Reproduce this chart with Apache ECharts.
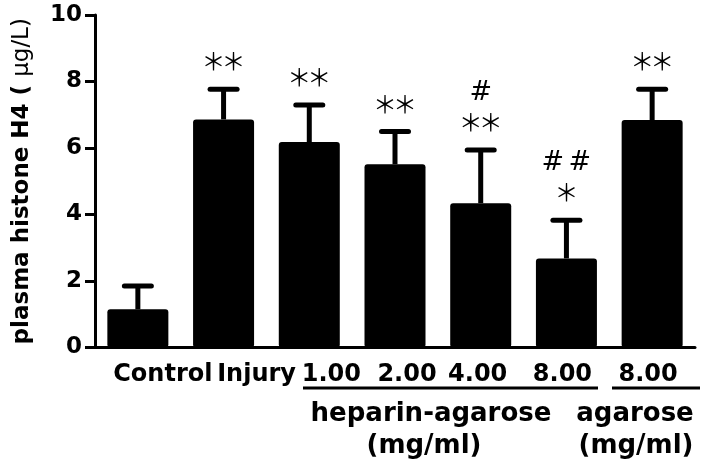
<!DOCTYPE html>
<html><head><meta charset="utf-8">
<script src="https://cdn.jsdelivr.net/npm/echarts@6/dist/echarts.min.js"></script>
<style>html,body{margin:0;padding:0;background:#fff}#c{width:708px;height:467px}</style>
</head><body><div id="c"></div>
<script>
// ---- data ----
const categories = ['Control', 'Injury', 'HA 1.00', 'HA 2.00', 'HA 4.00', 'HA 8.00', 'AG 8.00'];
const tickLabels = ['Control', 'Injury', '1.00', '2.00', '4.00', '8.00', '8.00'];
const means = [1.15, 6.86, 6.18, 5.51, 4.34, 2.68, 6.84];
const errTop = [1.85, 7.77, 7.29, 6.50, 5.94, 3.83, 7.77];
const marks = [[], ['**'], ['**'], ['**'], ['**', '#'], ['*', '##'], ['**']];
const yTicks = [0, 2, 4, 6, 8, 10];

const FONT = 'DejaVu Sans';
const labelShift = [25, 33, 22, 12, -3, -4, -4];
const rich = {};
labelShift.forEach((d, i) => {
  rich['s' + i] = {
    fontFamily: FONT, fontSize: 24, fontWeight: 'bold', color: '#000',
    padding: d >= 0 ? [0, 0, 0, 2 * d] : [0, -2 * d, 0, 0]
  };
});

const chart = echarts.init(document.getElementById('c'));
chart.setOption({
  animation: false,
  backgroundColor: '#fff',
  grid: { left: 95, right: 13, top: 15, bottom: 119.5 },
  xAxis: {
    type: 'category',
    data: categories,
    axisLine: { lineStyle: { color: '#000', width: 3 } },
    axisTick: { alignWithLabel: true, length: 10, lineStyle: { color: '#000', width: 3 } },
    axisLabel: {
      interval: 0, margin: 15,
      formatter: (v, i) => '{s' + i + '|' + tickLabels[i] + '}',
      rich: rich
    }
  },
  yAxis: {
    type: 'value', min: yTicks[0], max: yTicks[yTicks.length - 1], interval: 2,
    name: '{b|plasma histone H4 ( }{u|μg/L)}',
    nameLocation: 'middle', nameGap: 61,
    nameTextStyle: {
      rich: {
        b: { fontFamily: FONT, fontSize: 23, fontWeight: 'bold', color: '#000' },
        u: { fontFamily: FONT, fontSize: 23, fontWeight: 'normal', color: '#000' }
      }
    },
    splitLine: { show: false },
    axisLine: { show: true, lineStyle: { color: '#000', width: 3 } },
    axisTick: { show: true, length: 10, lineStyle: { color: '#000', width: 3 } },
    axisLabel: { fontFamily: FONT, fontSize: 23, fontWeight: 'bold', color: '#000', margin: 13 }
  },
  series: [
    {
      type: 'bar', data: means, barWidth: 61,
      itemStyle: { color: '#000', borderRadius: 3 }
    },
    {
      type: 'custom',
      data: categories.map((c, i) => [i, means[i], errTop[i]]),
      z: 3,
      renderItem: function (params, api) {
        const idx = params.dataIndex;
        const x = api.coord([api.value(0), 0])[0];
        const yTop = api.coord([api.value(0), api.value(2)])[1];
        const yMean = api.coord([api.value(0), api.value(1)])[1];
        const children = [
          { type: 'line', shape: { x1: x, y1: yMean, x2: x, y2: yTop }, style: { stroke: '#000', lineWidth: 5 } },
          { type: 'line', shape: { x1: x - 13.5, y1: yTop, x2: x + 13.5, y2: yTop }, style: { stroke: '#000', lineWidth: 5, lineCap: 'round' } }
        ];
        marks[idx].forEach((t, k) => {
          const chars = t.split('');
          const isHash = chars[0] === '#';
          const gap = isHash ? 27 : 20;
          chars.forEach((ch, j) => {
            children.push({
              type: 'text',
              x: x + (j - (chars.length - 1) / 2) * gap,
              y: yTop - 28 - 29 * k,
              style: {
                text: isHash ? '#' : '＊', fill: '#000', align: 'center', verticalAlign: 'middle',
                font: isHash ? '27px "DejaVu Sans"' : '24px "Noto Sans CJK SC"'
              }
            });
          });
        });
        return { type: 'group', children: children };
      }
    }
  ],
  graphic: [
    { type: 'line', shape: { x1: 303, y1: 388, x2: 598, y2: 388 }, style: { stroke: '#000', lineWidth: 3 } },
    { type: 'line', shape: { x1: 612, y1: 388, x2: 700, y2: 388 }, style: { stroke: '#000', lineWidth: 3 } },
    { type: 'text', x: 431, y: 414, style: { text: 'heparin-agarose', fill: '#000', align: 'center', verticalAlign: 'middle', font: 'bold 26px "DejaVu Sans"' } },
    { type: 'text', x: 424, y: 446, style: { text: '(mg/ml)', fill: '#000', align: 'center', verticalAlign: 'middle', font: 'bold 26px "DejaVu Sans"' } },
    { type: 'text', x: 635, y: 414, style: { text: 'agarose', fill: '#000', align: 'center', verticalAlign: 'middle', font: 'bold 26px "DejaVu Sans"' } },
    { type: 'text', x: 636, y: 446, style: { text: '(mg/ml)', fill: '#000', align: 'center', verticalAlign: 'middle', font: 'bold 26px "DejaVu Sans"' } }
  ]
});
</script></body></html>
